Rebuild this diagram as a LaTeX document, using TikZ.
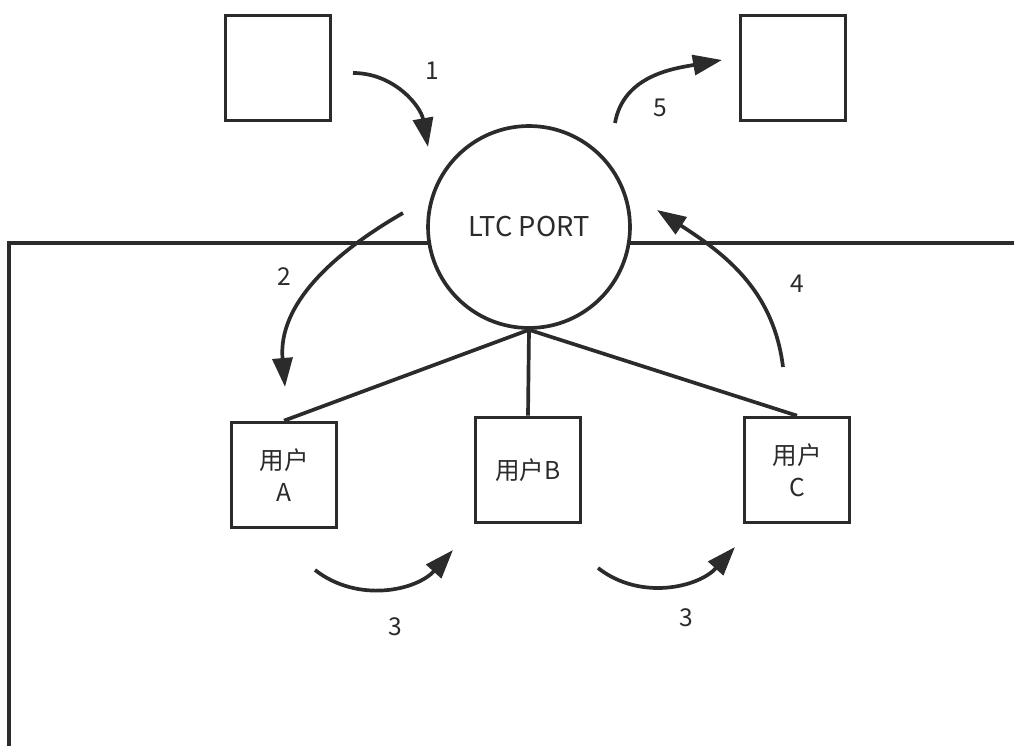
\documentclass[tikz,border=0pt]{standalone}
\usepackage{fontspec}
\usepackage{tikz}
\usetikzlibrary{arrows.meta}
\newfontfamily\cjk{Noto Sans CJK SC}
\definecolor{ink}{HTML}{2B2B2B}

\begin{document}
\begin{tikzpicture}[x=0.02cm, y=-0.02cm, line width=2.1pt, color=ink,
		font=\cjk\fontsize{14}{18}\selectfont,
		main/.style = {draw, circle, fill=white, minimum size=4.04cm, inner sep=0pt},
		box/.style = {draw, fill=white, minimum size=2.1cm, inner sep=0pt, align=center},
		flow/.style = {-{Triangle[length=0.58cm, width=0.4cm]}}]
		\useasboundingbox (0,0) rectangle (1014,746);
		\fill[white] (0,0) rectangle (1014,746);
		
		% network border
		\draw (9,760) -- (9,243) -- (1030,243);
		
		\node[main, font=\cjk\fontsize{15.5}{18}\selectfont] (port) at (529,227) {LTC PORT};
		\node[box] (src) at (278,68) {};
		\node[box] (dst) at (793,68) {};
		\node[box] (a) at (284,475) {用户\\A};
		\node[box] (b) at (528,470) {用户B};
		\node[box] (c) at (797,470) {用户\\C};
		
		\draw (port.south) -- (a.north);
		\draw (port.south) -- (b.north);
		\draw (port.south) -- (c.north);
		
		% message flow
		\coordinate (s1) at (353,73);  \coordinate (e1) at (428,147);
		\coordinate (s2) at (403,213); \coordinate (e2) at (285,387);
		\coordinate (s3) at (315,570); \coordinate (e3) at (453,550);
		\coordinate (t3) at (598,568); \coordinate (f3) at (735,547);
		\coordinate (s4) at (783,367); \coordinate (e4) at (657,210);
		\coordinate (s5) at (615,123); \coordinate (e5) at (722,60);
		
		\draw[flow] (s1) to[out=0, in=100] (e1);
		\draw[flow] (s2) to[out=210, in=95] (e2);
		\draw[flow] (s3) to[out=-38, in=228] (e3);
		\draw[flow] (t3) to[out=-38, in=228] (f3);
		\draw[flow] (s4) to[out=97, in=-33] (e4);
		\draw[flow] (s5) to[out=80, in=190] (e5);
		
		\node (n1) at (432,71) {1};
		\node (n2) at (284,277) {2};
		\node (n3) at (395,627) {3};
		\node (m3) at (686,618) {3};
		\node (n4) at (797,284) {4};
		\node (n5) at (660,108) {5};
	\end{tikzpicture}
\end{document}
